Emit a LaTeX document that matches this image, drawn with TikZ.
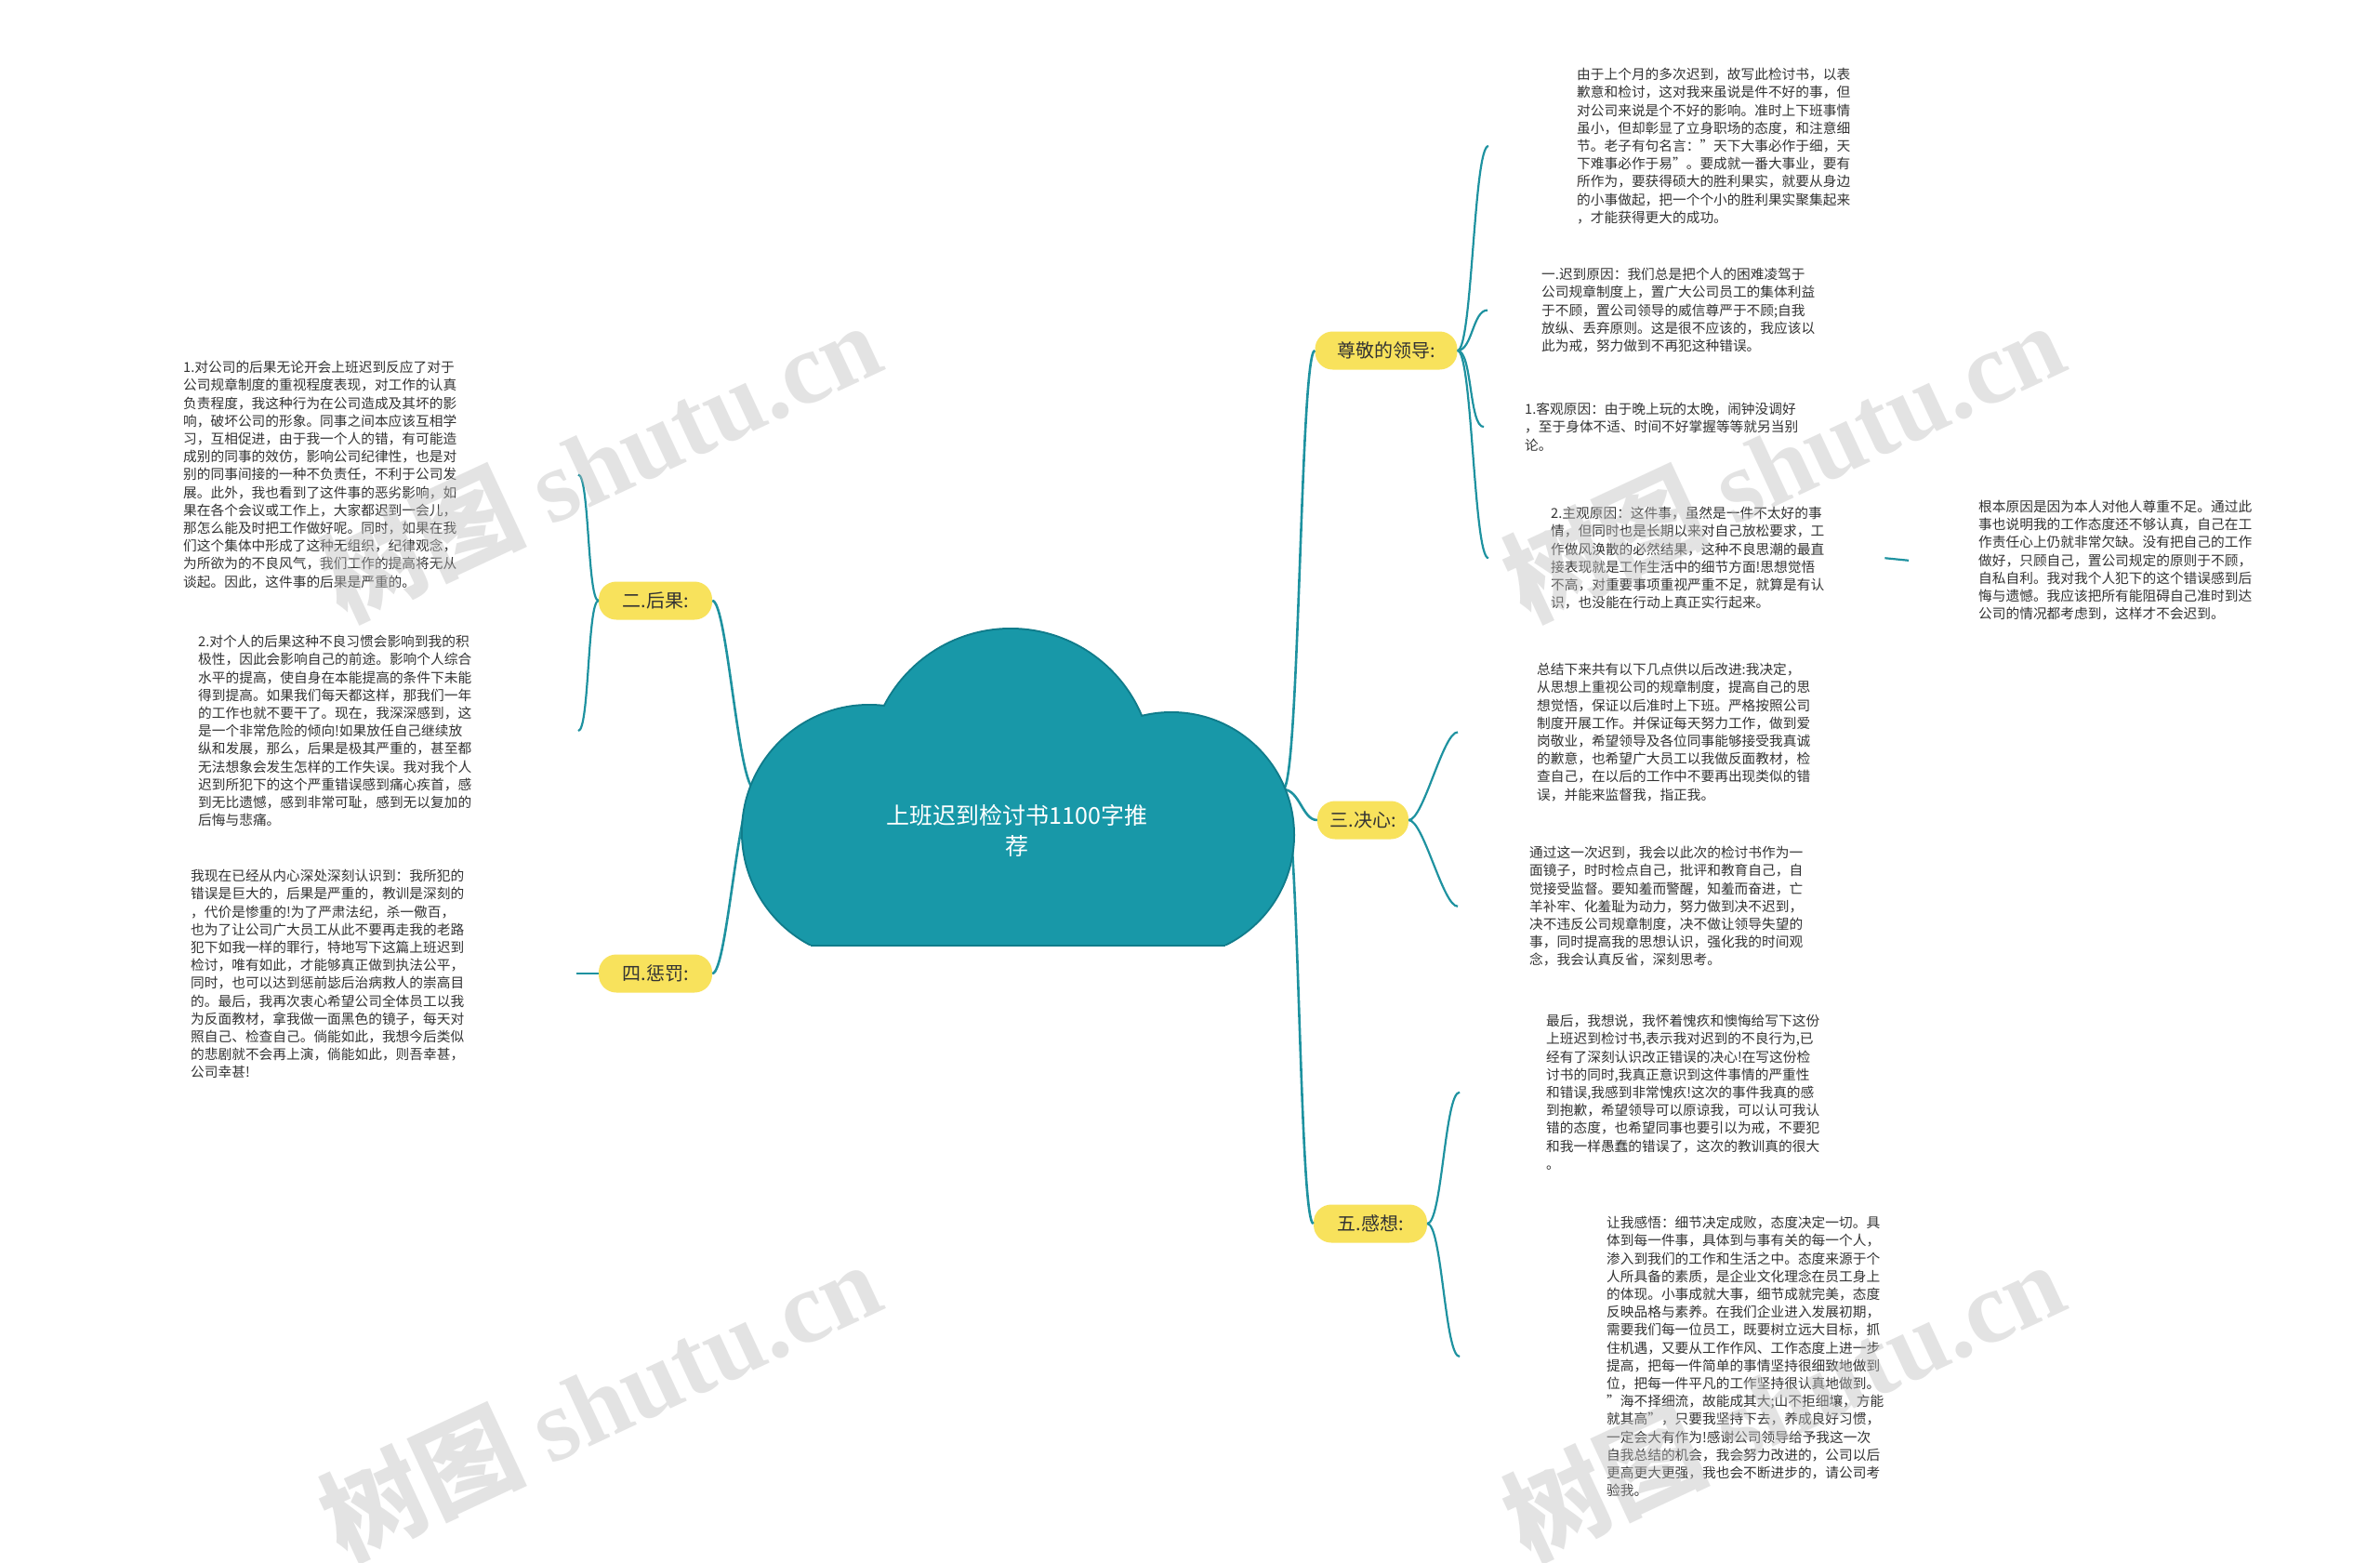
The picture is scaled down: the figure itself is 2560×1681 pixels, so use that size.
\documentclass[tikz,border=0pt]{standalone}
\usepackage{fontspec}
\setmainfont{Noto Sans CJK SC}
\newfontfamily\wmserif{Liberation Serif}
\definecolor{cloudfill}{RGB}{24,152,168}
\definecolor{cloudedge}{RGB}{16,124,139}
\definecolor{lineteal}{RGB}{30,146,160}
\definecolor{labelyellow}{RGB}{248,226,92}
\definecolor{txt}{RGB}{51,51,51}
\definecolor{wmgray}{RGB}{190,190,190}
\begin{document}
\begin{tikzpicture}[x=1pt,y=-1pt,
  leaf/.style={anchor=north west, inner sep=0pt, align=left, text=txt, font=\fontsize{14.7}{19.2}\selectfont},
  lab/.style={fill=labelyellow, rounded corners=19pt, minimum height=41pt, inner xsep=6pt, text=txt, font=\fontsize{20}{24}\selectfont},
  trunk/.style={draw=lineteal, line width=2.6pt},
  twig/.style={draw=lineteal, line width=2.2pt},
  wmark/.style={text=wmgray, opacity=0.42, rotate=25, font=\bfseries\fontsize{110}{120}\selectfont}
]
\useasboundingbox (0,0) rectangle (2560,1681);
\fill[white] (0,0) rectangle (2560,1681);

% ---------- labels ----------
\node[lab, minimum width=153pt] (zj) at (1491,377) {尊敬的领导:};
\node[lab, minimum width=122pt] (hg) at (705,646) {二.后果:};
\node[lab, minimum width=98pt]  (jx) at (1466,882) {三.决心:};
\node[lab, minimum width=122pt] (cf) at (705,1047) {四.惩罚:};
\node[lab, minimum width=122pt] (gx) at (1474,1316) {五.感想:};

% ---------- leaf texts ----------
\node[leaf] (A) at (1696,73) {由于上个月的多次迟到，故写此检讨书，以表\\歉意和检讨，这对我来虽说是件不好的事，但\\对公司来说是个不好的影响。准时上下班事情\\虽小，但却彰显了立身职场的态度，和注意细\\节。老子有句名言："天下大事必作于细，天\\下难事必作于易"。要成就一番大事业，要有\\所作为，要获得硕大的胜利果实，就要从身边\\的小事做起，把一个个小的胜利果实聚集起来\\，才能获得更大的成功。};
\node[leaf] (B) at (1658,288) {一.迟到原因：我们总是把个人的困难凌驾于\\公司规章制度上，置广大公司员工的集体利益\\于不顾，置公司领导的威信尊严于不顾;自我\\放纵、丢弃原则。这是很不应该的，我应该以\\此为戒，努力做到不再犯这种错误。};
\node[leaf] (C) at (1640,433) {1.客观原因：由于晚上玩的太晚，闹钟没调好\\，至于身体不适、时间不好掌握等等就另当别\\论。};
\node[leaf] (D) at (1668,545) {2.主观原因：这件事，虽然是一件不太好的事\\情，但同时也是长期以来对自己放松要求，工\\作做风涣散的必然结果，这种不良思潮的最直\\接表现就是工作生活中的细节方面!思想觉悟\\不高，对重要事项重视严重不足，就算是有认\\识，也没能在行动上真正实行起来。};
\node[leaf] (E) at (2128,538) {根本原因是因为本人对他人尊重不足。通过此\\事也说明我的工作态度还不够认真，自己在工\\作责任心上仍就非常欠缺。没有把自己的工作\\做好，只顾自己，置公司规定的原则于不顾，\\自私自利。我对我个人犯下的这个错误感到后\\悔与遗憾。我应该把所有能阻碍自己准时到达\\公司的情况都考虑到，这样才不会迟到。};
\node[leaf] (F) at (1653,713) {总结下来共有以下几点供以后改进:我决定，\\从思想上重视公司的规章制度，提高自己的思\\想觉悟，保证以后准时上下班。严格按照公司\\制度开展工作。并保证每天努力工作，做到爱\\岗敬业，希望领导及各位同事能够接受我真诚\\的歉意，也希望广大员工以我做反面教材，检\\查自己，在以后的工作中不要再出现类似的错\\误，并能来监督我，指正我。};
\node[leaf] (G) at (1645,910) {通过这一次迟到，我会以此次的检讨书作为一\\面镜子，时时检点自己，批评和教育自己，自\\觉接受监督。要知羞而警醒，知羞而奋进，亡\\羊补牢、化羞耻为动力，努力做到决不迟到，\\决不违反公司规章制度，决不做让领导失望的\\事，同时提高我的思想认识，强化我的时间观\\念，我会认真反省，深刻思考。};
\node[leaf] (H) at (1663,1091) {最后，我想说，我怀着愧疚和懊悔给写下这份\\上班迟到检讨书,表示我对迟到的不良行为,已\\经有了深刻认识改正错误的决心!在写这份检\\讨书的同时,我真正意识到这件事情的严重性\\和错误,我感到非常愧疚!这次的事件我真的感\\到抱歉，希望领导可以原谅我，可以认可我认\\错的态度，也希望同事也要引以为戒，不要犯\\和我一样愚蠢的错误了，这次的教训真的很大\\。};
\node[leaf] (I) at (1728,1308) {让我感悟：细节决定成败，态度决定一切。具\\体到每一件事，具体到与事有关的每一个人，\\渗入到我们的工作和生活之中。态度来源于个\\人所具备的素质，是企业文化理念在员工身上\\的体现。小事成就大事，细节成就完美，态度\\反映品格与素养。在我们企业进入发展初期，\\需要我们每一位员工，既要树立远大目标，抓\\住机遇，又要从工作作风、工作态度上进一步\\提高，把每一件简单的事情坚持很细致地做到\\位，把每一件平凡的工作坚持很认真地做到。\\"海不择细流，故能成其大;山不拒细壤，方能\\就其高"，只要我坚持下去，养成良好习惯，\\一定会大有作为!感谢公司领导给予我这一次\\自我总结的机会，我会努力改进的，公司以后\\更高更大更强，我也会不断进步的，请公司考\\验我。};
\node[leaf] (J) at (197,388) {1.对公司的后果无论开会上班迟到反应了对于\\公司规章制度的重视程度表现，对工作的认真\\负责程度，我这种行为在公司造成及其坏的影\\响，破坏公司的形象。同事之间本应该互相学\\习，互相促进，由于我一个人的错，有可能造\\成别的同事的效仿，影响公司纪律性，也是对\\别的同事间接的一种不负责任，不利于公司发\\展。此外，我也看到了这件事的恶劣影响，如\\果在各个会议或工作上，大家都迟到一会儿，\\那怎么能及时把工作做好呢。同时，如果在我\\们这个集体中形成了这种无组织，纪律观念，\\为所欲为的不良风气，我们工作的提高将无从\\谈起。因此，这件事的后果是严重的。};
\node[leaf] (K) at (213,683) {2.对个人的后果这种不良习惯会影响到我的积\\极性，因此会影响自己的前途。影响个人综合\\水平的提高，使自身在本能提高的条件下未能\\得到提高。如果我们每天都这样，那我们一年\\的工作也就不要干了。现在，我深深感到，这\\是一个非常危险的倾向!如果放任自己继续放\\纵和发展，那么，后果是极其严重的，甚至都\\无法想象会发生怎样的工作失误。我对我个人\\迟到所犯下的这个严重错误感到痛心疾首，感\\到无比遗憾，感到非常可耻，感到无以复加的\\后悔与悲痛。};
\node[leaf] (L) at (205,935) {我现在已经从内心深处深刻认识到：我所犯的\\错误是巨大的，后果是严重的，教训是深刻的\\，代价是惨重的!为了严肃法纪，杀一儆百，\\也为了让公司广大员工从此不要再走我的老路\\犯下如我一样的罪行，特地写下这篇上班迟到\\检讨，唯有如此，才能够真正做到执法公平，\\同时，也可以达到惩前毖后治病救人的崇高目\\的。最后，我再次衷心希望公司全体员工以我\\为反面教材，拿我做一面黑色的镜子，每天对\\照自己、检查自己。倘能如此，我想今后类似\\的悲剧就不会再上演，倘能如此，则吾幸甚，\\公司幸甚!};

% ---------- connector end points ----------
\coordinate (cR) at (1380,849);
\coordinate (cL) at (812,849);
\coordinate (eA) at ([xshift=-95]A.west);
\coordinate (eB) at ([xshift=-58]B.west);
\coordinate (eC) at ([xshift=-44]C.west);
\coordinate (eD) at ([xshift=-67]D.west);
\coordinate (eF) at ([xshift=-85]F.west);
\coordinate (eG) at ([xshift=-77]G.west);
\coordinate (eH) at ([xshift=-93]H.west);
\coordinate (eI) at ([xshift=-158]I.west);
\coordinate (eJ) at ([xshift=425]J.west);
\coordinate (eK) at ([xshift=409]K.west);
\coordinate (eL) at ([xshift=415]L.west |- cf.west);

% ---------- trunk connectors ----------
\draw[trunk] (cR) .. controls +(18,0) and +(-16,0) .. (zj.west);
\draw[trunk] (cR) .. controls +(18,0) and +(-16,0) .. (jx.west);
\draw[trunk] (cR) .. controls +(18,0) and +(-16,0) .. (gx.west);
\draw[trunk] (cL) .. controls +(-18,0) and +(16,0) .. (hg.east);
\draw[trunk] (cL) .. controls +(-18,0) and +(16,0) .. (cf.east);

% ---------- child connectors ----------
\draw[twig] (zj.east) .. controls +(16,0) and +(-16,0) .. (eA);
\draw[twig] (zj.east) .. controls +(16,0) and +(-16,0) .. (eB);
\draw[twig] (zj.east) .. controls +(16,0) and +(-16,0) .. (eC);
\draw[twig] (zj.east) .. controls +(16,0) and +(-16,0) .. (eD);
\draw[twig] ([xshift=65]D.east) -- ([xshift=-75]E.west);
\draw[twig] (jx.east) .. controls +(16,0) and +(-16,0) .. (eF);
\draw[twig] (jx.east) .. controls +(16,0) and +(-16,0) .. (eG);
\draw[twig] (gx.east) .. controls +(16,0) and +(-16,0) .. (eH);
\draw[twig] (gx.east) .. controls +(16,0) and +(-16,0) .. (eI);
\draw[twig] (hg.west) .. controls +(-12,0) and +(12,0) .. (eJ);
\draw[twig] (hg.west) .. controls +(-12,0) and +(12,0) .. (eK);
\draw[twig] (cf.west) -- (eL);

% ---------- cloud ----------
\begin{scope}
  \clip (600,600) rectangle (1600,1016);
  \draw[cloudedge, line width=4pt] (935,895) circle[radius=136];
  \draw[cloudedge, line width=4pt] (1087,829) circle[radius=152];
  \draw[cloudedge, line width=4pt] (1260,898) circle[radius=131];
  \fill[cloudfill] (935,895) circle[radius=136];
  \fill[cloudfill] (1087,829) circle[radius=152];
  \fill[cloudfill] (1260,898) circle[radius=131];
  \fill[cloudfill] (935,880) rectangle (1260,1016);
\end{scope}
\draw[cloudedge, line width=2pt] (872,1017) -- (1318,1017);
\node[align=center, text=white, font=\fontsize{25}{33}\selectfont] (root) at (1094,893) {上班迟到检讨书1100字推\\荐};

% ---------- watermarks ----------
\node[wmark] (wm1) at (645,495) {树图 {\wmserif shutu.cn}};
\node[wmark] (wm2) at (645,1505) {树图 {\wmserif shutu.cn}};
\node[wmark] (wm3) at (1918,495) {树图 {\wmserif shutu.cn}};
\node[wmark] (wm4) at (1918,1505) {树图 {\wmserif shutu.cn}};
\end{tikzpicture}
\end{document}
